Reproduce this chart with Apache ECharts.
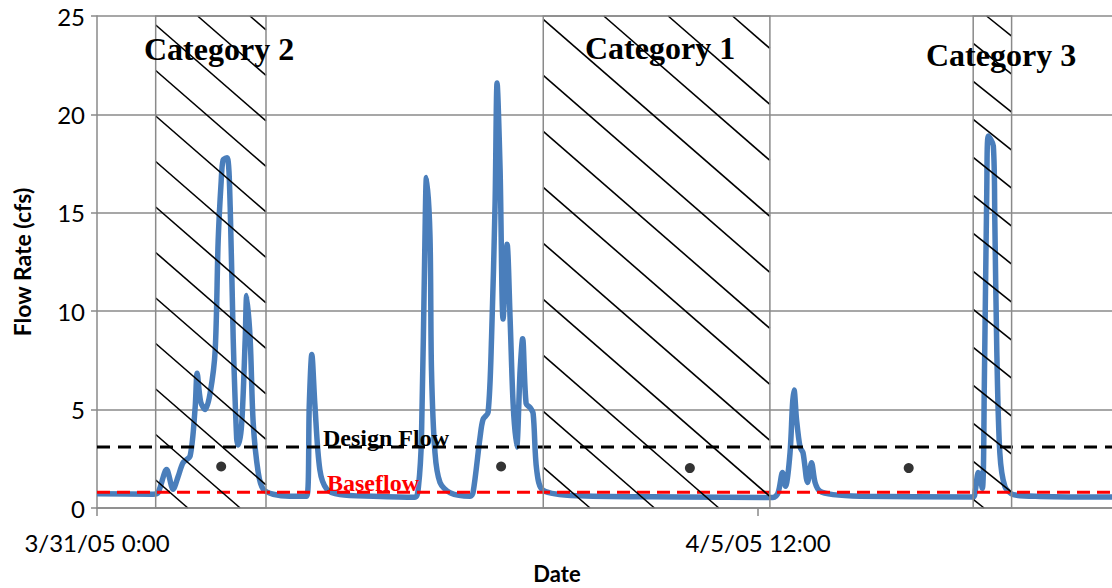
<!DOCTYPE html>
<html><head><meta charset="utf-8">
<script src="https://cdn.jsdelivr.net/npm/echarts@6/dist/echarts.min.js"></script>
<style>html,body{margin:0;padding:0;background:#fff}#c{width:1112px;height:588px}</style>
</head><body><div id="c"></div>
<script>
// x values are hours since 3/31/05 0:00
const flowHours = [0,11.2,12.2,13.9,15.2,16.2,17.2,18.6,19.6,20.0,20.7,21.6,22.6,23.6,24.2,24.8,25.2,26.0,26.6,27.2,27.9,28.2,28.9,29.6,29.9,30.6,31.2,32.2,33.2,35.2,38.5,41.9,42.4,42.9,43.5,44.5,45.9,48.5,55.2,63.5,64.2,64.8,65.5,65.8,66.5,66.8,67.5,68.5,70.5,74.5,75.1,76.5,77.1,78.1,78.8,79.5,79.9,80.5,81.1,81.9,82.5,83.1,83.8,84.5,85.0,85.7,86.5,87.1,87.8,89.1,96.5,116.4,135.0,136.0,136.9,137.5,138.4,138.9,139.2,139.7,140.4,141.0,141.9,142.7,143.4,144.4,147.0,152.4,175.0,175.4,176.0,176.8,177.2,177.7,178.0,179.0,179.3,179.7,180.3,181.3,183.0,188.3,202.7];
const flowValues = [0.72,0.7,0.78,1.95,0.95,1.6,2.3,2.65,5.1,6.85,5.4,5.0,5.85,8.0,13.6,16.6,17.7,17.8,15.3,8.6,3.5,3.2,4.3,8.6,10.8,8.5,4.3,1.8,0.95,0.7,0.6,0.6,5.3,7.8,5.3,1.95,0.95,0.68,0.6,0.55,1.1,3.6,13.8,16.8,13.8,7.0,2.8,1.3,0.78,0.6,0.78,3.6,4.5,4.85,8.7,15.5,21.6,17.2,9.6,13.4,9.6,5.3,3.1,7.0,8.6,5.3,5.1,4.8,1.95,0.9,0.62,0.56,0.53,0.76,1.8,1.1,2.8,5.3,6.0,4.5,3.1,2.8,1.3,2.3,1.3,0.85,0.68,0.6,0.56,0.9,1.8,1.0,6.2,16.3,18.9,18.4,14.6,7.9,2.8,1.1,0.68,0.59,0.56];
const xTickHours = [0, 132];
const xTickLabels = ['3/31/05 0:00', '4/5/05 12:00'];
const xMax = 202.7;
const yMin = 0, yMax = 25, yStep = 5;
const designFlow = 3.1;
const baseflow = 0.8;
const dotHours = [24.8, 80.7, 118.4, 162.1];
const dotValues = [2.11, 2.11, 2.03, 2.03];
const regionNames = ['Category 2', 'Category 1', 'Category 3'];
const regionStart = [11.72, 89.12, 174.98];
const regionEnd = [33.75, 134.38, 182.65];

// styles (not data)
const hatchStyle = [
  {slope: 0.87, gap: 45.5, phase: 9},
  {slope: 0.87, gap: 56, phase: 3.3},
  {slope: 0.8, gap: 38, phase: 27.3}
];
const regionLabelPos = [[144, 48.5], [585, 48], [926, 55]];

const chart = echarts.init(document.getElementById('c'), null, {renderer: 'svg'});
const flowData = flowHours.map((h, i) => [h, flowValues[i]]);
const grey = '#8a8a8a';

chart.setOption({
  animation: false,
  backgroundColor: '#fff',
  grid: {left: 97, right: 0, top: 16, bottom: 80, containLabel: false},
  xAxis: {
    type: 'value', min: 0, max: xMax, interval: 132,
    axisLine: {onZero: false, lineStyle: {color: grey, width: 1.5}},
    axisTick: {show: true, customValues: xTickHours, length: 8, lineStyle: {color: grey, width: 1.5}},
    axisLabel: {
      customValues: xTickHours,
      formatter: v => { const i = xTickHours.indexOf(v); return i >= 0 ? xTickLabels[i] : ''; },
      margin: 22, fontFamily: 'Lato', fontSize: 24, color: '#000'
    },
    splitLine: {show: false}
  },
  yAxis: {
    type: 'value', min: yMin, max: yMax, interval: yStep,
    axisLine: {show: true, lineStyle: {color: grey, width: 1.5}},
    axisTick: {show: true, length: 6, lineStyle: {color: grey, width: 1.5}},
    axisLabel: {fontFamily: 'Lato', fontSize: 24, color: '#000', margin: 12},
    splitLine: {show: true, lineStyle: {color: grey, width: 1.5}},
    name: 'Flow Rate (cfs)', nameLocation: 'middle', nameGap: 64,
    nameTextStyle: {fontFamily: 'Lato', fontWeight: 'bold', fontSize: 23, color: '#000'}
  },
  graphic: [
    ...regionNames.map((t, i) => ({
      type: 'text', z: 100,
      style: {text: t, x: regionLabelPos[i][0], y: regionLabelPos[i][1], font: 'bold 32px "Liberation Serif"', fill: '#000', textAlign: 'left', textVerticalAlign: 'middle'}
    })),
    {type: 'text', z: 100, style: {text: 'Design Flow', x: 323, y: 438, font: 'bold 24px "Liberation Serif"', fill: '#000', textAlign: 'left', textVerticalAlign: 'middle'}},
    {type: 'text', z: 100, style: {text: 'Baseflow', x: 327, y: 483, font: 'bold 24px "Liberation Serif"', fill: '#ff0000', textAlign: 'left', textVerticalAlign: 'middle'}},
    {type: 'text', z: 100, style: {text: 'Date', x: 557, y: 573, font: 'bold 22px Lato', fill: '#000', textAlign: 'center', textVerticalAlign: 'middle'}}
  ],
  series: [
    {
      type: 'line', name: 'Flow', data: flowData, showSymbol: false, smooth: 0.3, z: 2,
      lineStyle: {color: '#4a7ebb', width: 5.5}, itemStyle: {color: '#4a7ebb'}
    },
    {
      type: 'line', name: 'Design Flow', data: [[0, designFlow], [xMax, designFlow]], showSymbol: false, z: 3,
      lineStyle: {color: '#000', width: 3, type: [13, 8]}
    },
    {
      type: 'line', name: 'Baseflow', data: [[0, baseflow], [xMax, baseflow]], showSymbol: false, z: 3,
      lineStyle: {color: '#ff0000', width: 3, type: [13, 7]}
    },
    {
      type: 'scatter', data: dotHours.map((h, i) => [h, dotValues[i]]), symbolSize: 10, z: 4,
      itemStyle: {color: '#000'}
    },
    {
      type: 'custom', z: 5,
      data: regionStart.map((s, i) => [s, regionEnd[i]]),
      encode: {x: [0, 1]},
      renderItem: function (params, api) {
        const i = params.dataIndex;
        const p0 = api.coord([api.value(0), yMax]);
        const p1 = api.coord([api.value(1), yMin]);
        const L = p0[0], T = p0[1], R = p1[0], B = p1[1];
        const st = hatchStyle[i];
        const w = R - L;
        const children = [];
        const startY = T + st.phase - Math.ceil((st.phase + st.slope * w) / st.gap) * st.gap;
        for (let yL = startY; yL < B; yL += st.gap) {
          let x1 = L, y1 = yL, x2 = R, y2 = yL + st.slope * w;
          if (y1 < T) { x1 = L + (T - yL) / st.slope; y1 = T; }
          if (y2 > B) { x2 = L + (B - yL) / st.slope; y2 = B; }
          if (x2 - x1 > 0.5) children.push({type: 'line', shape: {x1, y1, x2, y2}, style: {stroke: '#000', lineWidth: 1.6}});
        }
        children.push({type: 'rect', shape: {x: L, y: T, width: w, height: B - T}, style: {fill: 'none', stroke: grey, lineWidth: 1.5}});
        return {type: 'group', children};
      }
    }
  ]
});
</script>
</body></html>
